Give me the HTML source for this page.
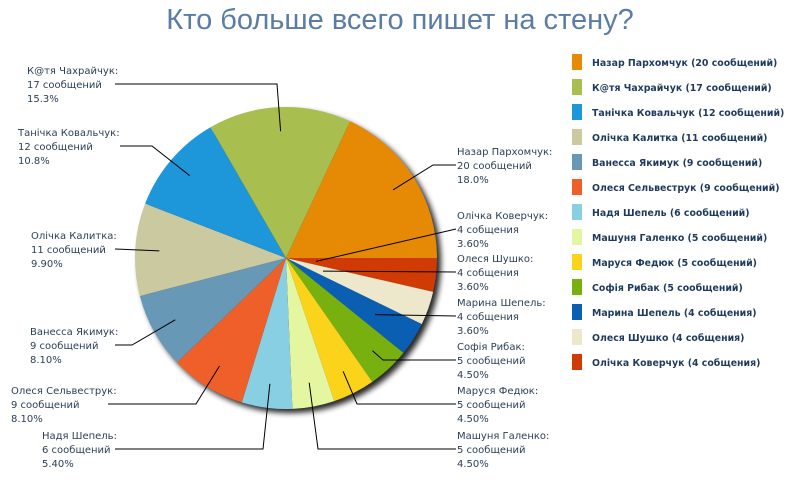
<!DOCTYPE html>
<html><head><meta charset="utf-8">
<style>
html,body{margin:0;padding:0;background:#fff;}
body{width:800px;height:500px;overflow:hidden;position:relative;font-family:"DejaVu Sans","Liberation Sans",sans-serif;}
#title{position:absolute;left:0;width:800px;top:4px;text-align:center;font-family:"Liberation Sans","DejaVu Sans",sans-serif;font-size:29px;color:#5a7ca6;}
svg{position:absolute;left:0;top:0;}
.lbl{font-size:10px;fill:#2b3f55;}
.leg{font-size:9.4px;font-weight:bold;fill:#1f3a5c;}
</style></head>
<body>
<div id="title">Кто больше всего пишет на стену?</div>
<svg id="chart" width="800" height="500">
<defs><filter id="sh" x="-20%" y="-20%" width="140%" height="140%"><feGaussianBlur stdDeviation="3"/></filter></defs>
<circle cx="290" cy="262" r="151" fill="#000" opacity="0.85" filter="url(#sh)"/>
<g id="slices"></g><g id="labels"></g><g id="legend"></g>
</svg>
<script>
const names=["Назар Пархомчук","К@тя Чахрайчук","Танічка Ковальчук","Олічка Калитка","Ванесса Якимук","Олеся Сельвеструк","Надя Шепель","Машуня Галенко","Маруся Федюк","Софія Рибак","Марина Шепель","Олеся Шушко","Олічка Коверчук"];
const counts=[20,17,12,11,9,9,6,5,5,5,4,4,4];
const units=["сообщений","сообщений","сообщений","сообщений","сообщений","сообщений","сообщений","сообщений","сообщений","сообщений","собщения","собщения","собщения"];
const pctLabels=["18.0%","15.3%","10.8%","9.90%","8.10%","8.10%","5.40%","4.50%","4.50%","4.50%","3.60%","3.60%","3.60%"];
const colors=["#e68a06","#a8be4e","#1e96da","#cac9a0","#6798b5","#ef5f2a","#88cfe3","#e4f6a0","#fbd31b","#78b00f","#0a5fb3","#ede7cb","#d03b05"];
const lay=[
 {tx:457,my:165,side:"r",f:0.84,pts:[[433,165]]},
 {tx:27,my:84,side:"l",f:0.84,pts:[[277,84]]},
 {tx:18,my:146,side:"l",f:0.84,pts:[[152,146]]},
 {tx:31,my:249,side:"l",f:0.84,pts:[]},
 {tx:30,my:345,side:"l",f:0.84,pts:[[132,345]]},
 {tx:11,my:404,side:"l",f:0.84,pts:[[196,404]]},
 {tx:42,my:449,side:"l",f:0.84,pts:[[263,449]]},
 {tx:457,my:449,side:"r",f:0.84,pts:[[318,449]]},
 {tx:457,my:404,side:"r",f:0.84,pts:[[357,404]]},
 {tx:457,my:360,side:"r",f:0.84,pts:[[383,360]]},
 {tx:457,my:316,side:"r",f:0.7,pts:[]},
 {tx:457,my:272,side:"r",f:0.26,pts:[]},
 {tx:457,my:229,side:"r",f:0.2,pts:[]}
];
const cx=286,cy=258,R=151,NS="http://www.w3.org/2000/svg";
const total=counts.reduce((a,b)=>a+b,0);
function pt(a,r){return [cx+r*Math.cos(a),cy+r*Math.sin(a)];}
const sg=document.getElementById('slices'),lg=document.getElementById('labels'),gg=document.getElementById('legend');
let a=0;const mids=[];
for(let i=counts.length-1;i>=0;i--){
 const sw=counts[i]/total*2*Math.PI;const a2=a+sw;
 const p1=pt(a,R),p2=pt(a2,R);
 const p=document.createElementNS(NS,'path');
 p.setAttribute('d',`M${cx},${cy}L${p1[0]},${p1[1]}A${R},${R} 0 ${sw>Math.PI?1:0} 1 ${p2[0]},${p2[1]}Z`);
 p.setAttribute('fill',colors[i]);
 
 
 sg.appendChild(p);mids[i]=(a+a2)/2;a=a2;
}
for(let i=0;i<counts.length;i++){
 const L=lay[i];const an=pt(mids[i],R*L.f);
 const lineEnd=L.side==="r"?L.tx-1:L.tx+ (i===1?88:i===2?102:i===3?84:i===4?85:i===5?97:73);
 const pts=[an,...L.pts,[lineEnd,L.my]];
 const pl=document.createElementNS(NS,'polyline');
 pl.setAttribute('points',pts.map(q=>q.join(',')).join(' '));
 pl.setAttribute('fill','none');pl.setAttribute('stroke','#000');pl.setAttribute('stroke-width','1');
 
 
 lg.appendChild(pl);
 const t=document.createElementNS(NS,'text');t.setAttribute('class','lbl');
 
 
 const lines=[names[i]+":",counts[i]+" "+units[i],pctLabels[i]];
 lines.forEach((s,k)=>{const ts=document.createElementNS(NS,'tspan');ts.setAttribute('x',L.tx);ts.setAttribute('y',L.my+4+(k-1)*14);ts.textContent=s;t.appendChild(ts);});
 lg.appendChild(t);
 const ly=62+i*25;
 const r=document.createElementNS(NS,'rect');r.setAttribute('x',572);r.setAttribute('y',ly-8);r.setAttribute('width',10);r.setAttribute('height',16);r.setAttribute('fill',colors[i]);
 
 
 gg.appendChild(r);
 const lt=document.createElementNS(NS,'text');lt.setAttribute('class','leg');lt.setAttribute('x',592);lt.setAttribute('y',ly+4);
 lt.textContent=`${names[i]} (${counts[i]} ${units[i]})`;
 
 
 gg.appendChild(lt);
}
</script>
</body></html>
